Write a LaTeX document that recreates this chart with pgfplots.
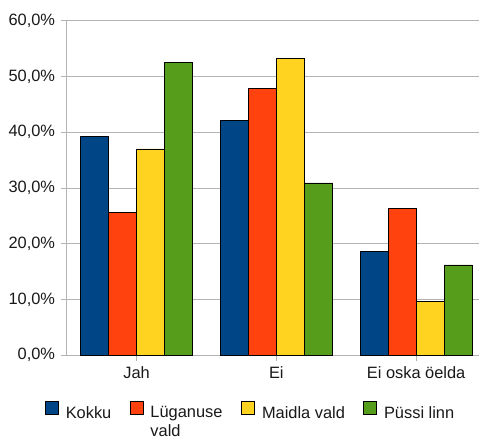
\documentclass[border=0pt]{standalone}
\usepackage{pgfplots}
\pgfplotsset{compat=1.18}
\usepackage{fontspec}
\setmainfont{Liberation Sans}
\definecolor{cKokku}{HTML}{004586}
\definecolor{cLug}{HTML}{FF420E}
\definecolor{cMaid}{HTML}{FFD320}
\definecolor{cPus}{HTML}{579D1C}
\definecolor{gridc}{HTML}{B3B3B3}
\begin{document}
\fontsize{16.4bp}{19bp}\selectfont
\begin{tikzpicture}
\begin{axis}[name=ax,
  scale only axis, width=419.3bp, height=334.6bp,
  xmin=-0.5, xmax=2.5, ymin=0, ymax=60,
  ybar=0pt, bar width=28bp,
  xtick={0,1,2}, xticklabels={Jah,Ei,Ei oska öelda},
  ytick={0,10,20,30,40,50,60},
  yticklabel={\pgfmathprintnumber{\tick}\%},
  /pgf/number format/.cd, fixed, fixed zerofill, precision=1, use comma, assume math mode=true,
  /pgfplots/.cd,
  axis x line*=bottom, axis y line*=left,
  axis line style={draw=gridc, line width=0.8bp, -},
  ymajorgrids, grid style={draw=gridc, line width=0.8bp},
  tick align=outside, major tick length=6bp,
  tick style={draw=gridc, line width=0.8bp},
  tick label style={font=\fontsize{16.4bp}{19bp}\selectfont, text=black!90},
  legend columns=4,
  legend image code/.code={\draw[#1, line width=0.6bp] (0bp,-1bp) rectangle (13bp,12bp);},
  legend style={draw=none, at={(-0.0518,-0.1360)}, anchor=north west, inner sep=0pt,
    font=\fontsize{16.4bp}{18.5bp}\selectfont, text=black!90,
    /tikz/every odd column/.append style={column sep=5bp},
    /tikz/every even column/.append style={column sep=16.5bp}},
  legend cell align=left,
  every axis plot/.append style={draw=black, line width=0.6bp},
]
\addplot[fill=cKokku] coordinates {(0,39.3) (1,42.1) (2,18.6)};
\addplot[fill=cLug] coordinates {(0,25.6) (1,47.9) (2,26.4)};
\addplot[fill=cMaid] coordinates {(0,37.0) (1,53.2) (2,9.6)};
\addplot[fill=cPus] coordinates {(0,52.5) (1,30.9) (2,16.2)};
\addlegendentry{Kokku}
\addlegendentry{\parbox[t]{72.5bp}{Lüganuse\newline vald}}
\addlegendentry{Maidla vald\hspace{-5.5bp}}
\addlegendentry{Püssi linn}
\end{axis}
\pgfresetboundingbox
\path[use as bounding box] ([xshift=-66.7bp,yshift=-83.7bp]ax.south west) rectangle ([xshift=412.3bp,yshift=355.3bp]ax.south west);
\end{tikzpicture}
\end{document}
